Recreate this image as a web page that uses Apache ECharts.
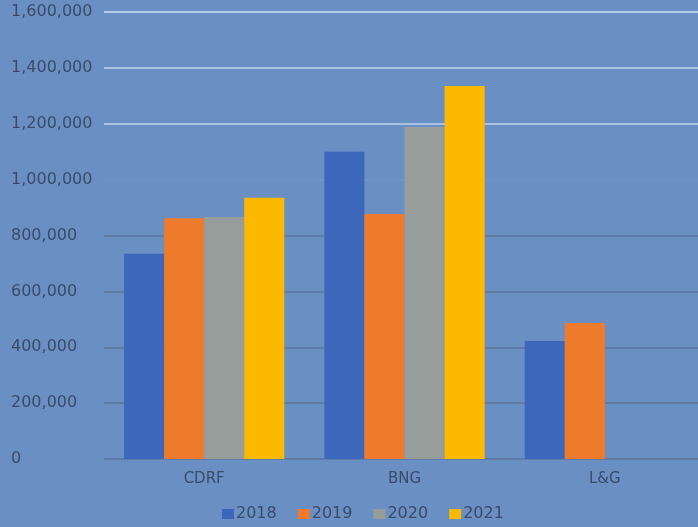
<!DOCTYPE html>
<html><head><meta charset="utf-8">
<script src="https://cdn.jsdelivr.net/npm/echarts@6/dist/echarts.min.js"></script>
<style>html,body{margin:0;padding:0;background:#6a8fc3;overflow:hidden;width:698px;height:527px;}#c{width:712px;height:527px;}</style>
</head><body><div id="c"></div>
<script>
const categories = ['CDRF', 'BNG', 'L&G'];
const years = ['2018', '2019', '2020', '2021'];
const v2018 = [735000, 1100000, 422000];
const v2019 = [862000, 877000, 487000];
const v2020 = [866000, 1188000, null];
const v2021 = [935000, 1335000, null];
const yTicks = [0, 200000, 400000, 600000, 800000, 1000000, 1200000, 1400000, 1600000];

const seriesData = [v2018, v2019, v2020, v2021];
const colors = ['#3d67ba', '#ee7a2b', '#979d9b', '#fdb902'];
const chart = echarts.init(document.getElementById('c'));
chart.setOption({
  backgroundColor: '#6a8fc3',
  animation: false,
  color: colors,
  textStyle: { fontFamily: 'DejaVu Sans, sans-serif' },
  grid: { left: 104, right: 7, top: 12, height: 447, containLabel: false },
  legend: {
    top: 501, left: 217, itemWidth: 12, itemHeight: 10, itemGap: 21,
    icon: 'rect',
    textStyle: { color: '#3b4b68', fontSize: 16, padding: [0, 0, 0, -3] },
    data: years
  },
  xAxis: {
    type: 'category', data: categories,
    axisLine: { lineStyle: { color: '#5f7ca6', width: 1 } },
    axisTick: { show: false },
    axisLabel: { color: '#3b4b68', fontSize: 15, margin: 13 }
  },
  yAxis: {
    type: 'value', min: 0, max: 1600000, interval: 200000,
    axisLine: { show: false }, axisTick: { show: false },
    axisLabel: {
      color: '#3b4b68', fontSize: 16, margin: 93, align: 'left',
      formatter: v => yTicks.includes(v) ? v.toLocaleString('en-US') : ''
    },
    splitLine: { lineStyle: { width: 2, color: ['#5f7ca6', '#5f7ca6', '#5f7ca6', '#5f7ca6', '#5f7ca6', '#6f93c6', '#a9c2e3', '#a9c2e3', '#b5cbe8'] } }
  },
  series: years.map((y, i) => ({
    name: y, type: 'bar', data: seriesData[i],
    barGap: '0%', barCategoryGap: '20%'
  }))
});
</script></body></html>
